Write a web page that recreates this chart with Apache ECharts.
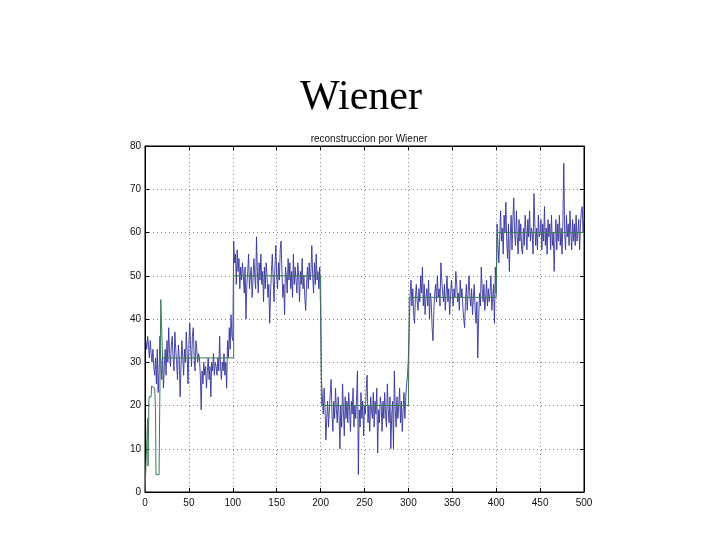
<!DOCTYPE html>
<html>
<head>
<meta charset="utf-8">
<script src="https://cdn.jsdelivr.net/npm/echarts@6/dist/echarts.min.js"></script>
<style>html,body{margin:0;padding:0;background:#fff;}#c{width:720px;height:540px;}</style>
</head>
<body>
<div id="c"></div>
<script>
// Noisy observation (blue), samples 1..500, read segment by segment
const seg1 = [35,33,36,34,31,35,32,30,33,29, 27,31,25,33,23,28,36,30,26,32,
  24,29,33,27,35,30,38,32,29,34, 36,31,28,37,33,30,26,34,31,22,
  29,35,31,27,33,30,37,32,25,34, 39,33,29,36,38,31,28,35,33,30,
  32,31,27,19,28,25,30,27,29,24, 28,31,26,29,22,30,28,32,27,30,
  29,27,31,28,36,29,26,30,28,32, 27,30,24,35,31,38,33,41,36,35];
const seg2 = [58,53,55,48,56,51,54,47,52,49, 53,50,46,52,40,48,51,55,47,50,
  52,45,49,54,50,47,59,51,46,53, 49,55,48,51,44,52,47,53,50,45,
  48,39,46,51,55,49,44,52,57,50, 47,53,49,56,58,51,45,48,41,52,
  50,46,54,49,53,47,51,45,55,48, 52,49,46,53,50,44,51,48,54,47,
  50,45,42,48,52,47,53,49,51,57, 50,46,53,48,55,49,51,47,52,42];
const seg3 = [26,22,18,24,20,12,17,21,15,19, 23,26,18,14,21,17,24,19,16,22,
  18,10,20,15,25,19,13,22,17,21, 16,23,19,14,21,18,24,15,20,17,
  22,28,4,19,15,23,17,21,13,20, 18,24,27,16,20,14,22,19,17,23,
  15,21,18,24,9,19,16,22,20,14, 21,17,23,18,15,25,19,16,22,10,
  18,21,10,28,19,15,22,17,20,24, 16,21,14,19,23,17,22,25,27,31];
const seg4 = [38,46,49,43,47,41,39,45,48,44, 42,47,44,50,46,52,43,48,41,45,
  47,43,49,40,46,44,38,35,42,46, 48,44,50,45,47,43,53,49,46,44,
  48,42,46,50,44,47,41,45,49,46, 43,47,45,51,48,44,46,42,49,45,
  47,43,40,38,44,48,42,46,50,45, 43,47,41,45,48,42,39,44,31,40,
  46,43,52,47,44,48,42,45,49,43, 47,44,46,50,42,45,48,39,52,46];
const seg5 = [62,57,53,59,65,58,61,55,64,60, 67,58,54,62,51,59,64,56,63,68,
  60,57,65,59,55,63,58,62,56,55, 61,57,64,60,56,63,59,65,58,61,
  60,55,69,62,57,61,56,64,59,60, 63,56,62,58,66,57,61,55,63,59,
  62,56,64,57,60,51,59,63,56,62, 58,64,57,61,55,63,76,60,56,64,
  59,62,57,65,60,56,63,58,62,57, 64,58,60,63,56,62,65,66,60,63];

// Wiener reconstruction (green): [sample, value]
const greenX = [0,2,3,3.5,4.5,7,7.5,11,12,12.5,16,18,20,101,101,200,201,300,301,400,401,500];
const greenY = [0,0,17,6,22,22,24.5,24,19,4,4,44.5,31,31,50,50,20,20,45,45,60,60];

const xTicks = [0,50,100,150,200,250,300,350,400,450,500];
const yTicks = [0,10,20,30,40,50,60,70,80];

const blue = seg1.concat(seg2, seg3, seg4, seg5).map((v, i) => [i + 1, v]);
const green = greenX.map((x, i) => [x, greenY[i]]);

const chart = echarts.init(document.getElementById('c'));
const lab = {fontFamily: 'Liberation Sans, Arial, sans-serif', fontSize: 10, color: '#111'};
const split = {show: true, lineStyle: {type: [1, 3], color: '#888', width: 1}};
const tick = {show: true, inside: true, length: 4, lineStyle: {color: '#000', width: 1}};
chart.setOption({
  animation: false,
  backgroundColor: '#fff',
  title: [
    {text: 'Wiener', left: 356, top: 72, textAlign: 'center',
     textStyle: {fontFamily: 'Liberation Serif, Times New Roman, serif', fontSize: 42, fontWeight: 'normal', color: '#000'}},
    {text: 'reconstruccion por Wiener', left: 364, top: 129, textAlign: 'center',
     textStyle: {fontFamily: 'Liberation Sans, Arial, sans-serif', fontSize: 10, fontWeight: 'normal', color: '#111'}}
  ],
  grid: {left: 145, right: 136, top: 146, bottom: 48, show: true, borderColor: '#000', borderWidth: 1},
  xAxis: [
    {type: 'value', min: xTicks[0], max: xTicks[xTicks.length - 1], interval: 50, position: 'bottom',
     axisLine: {show: true, onZero: false, lineStyle: {color: '#000'}}, axisTick: tick,
     axisLabel: Object.assign({margin: 6}, lab), splitLine: split},
    {type: 'value', min: 0, max: 500, interval: 50, position: 'top',
     axisLine: {show: true, onZero: false, lineStyle: {color: '#000'}}, axisTick: tick,
     axisLabel: {show: false}, splitLine: {show: false}}
  ],
  yAxis: [
    {type: 'value', min: yTicks[0], max: yTicks[yTicks.length - 1], interval: 10, position: 'left',
     axisLine: {show: true, onZero: false, lineStyle: {color: '#000'}}, axisTick: tick,
     axisLabel: Object.assign({margin: 4}, lab), splitLine: split},
    {type: 'value', min: 0, max: 80, interval: 10, position: 'right',
     axisLine: {show: true, onZero: false, lineStyle: {color: '#000'}}, axisTick: tick,
     axisLabel: {show: false}, splitLine: {show: false}}
  ],
  series: [
    {type: 'line', data: blue, showSymbol: false, symbol: 'none', lineStyle: {color: '#34349c', width: 0.9}, z: 2},
    {type: 'line', data: green, showSymbol: false, symbol: 'none', lineStyle: {color: '#3d7a55', width: 1}, z: 3}
  ]
});
</script>
</body>
</html>
